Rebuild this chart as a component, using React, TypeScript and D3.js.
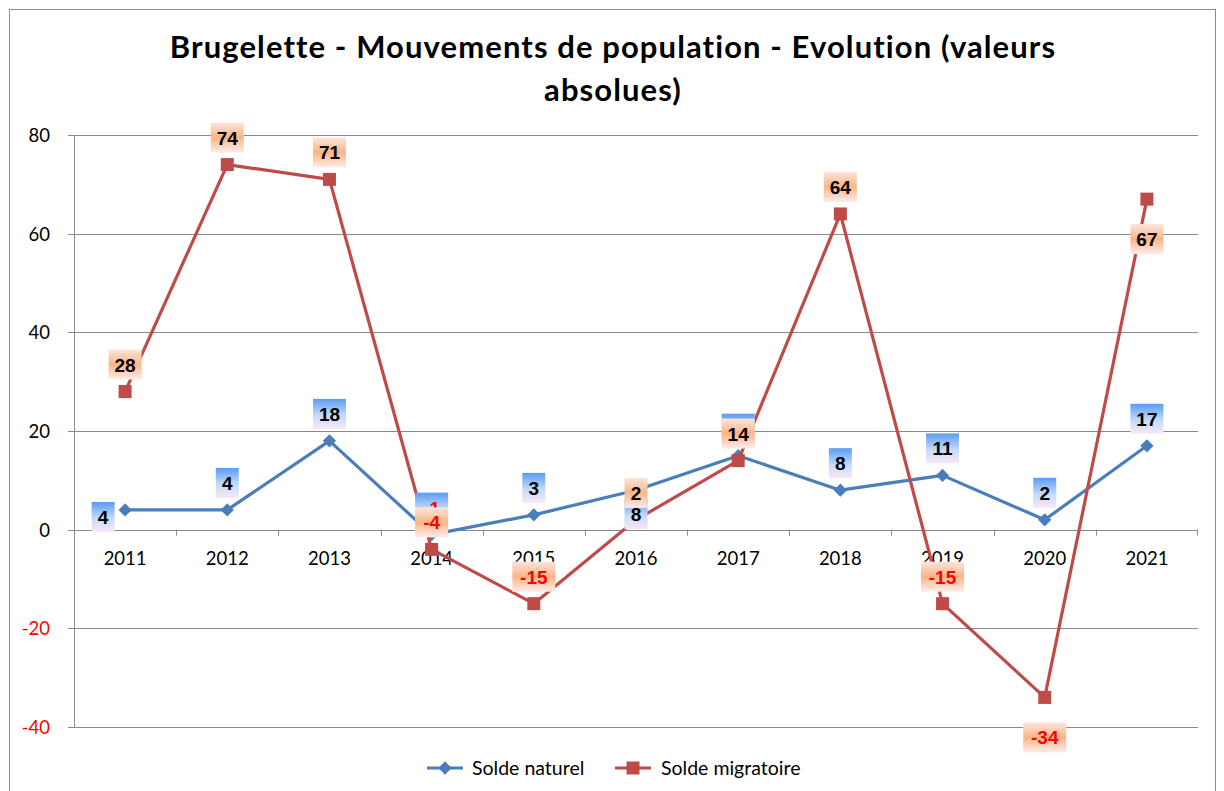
import React from "react";
import * as d3 from "d3";

const years = ["2011","2012","2013","2014","2015","2016","2017","2018","2019","2020","2021"];
const soldeNaturel = [4, 4, 18, -1, 3, 8, 15, 8, 11, 2, 17];
const soldeMigratoire = [28, 74, 71, -4, -15, 2, 14, 64, -15, -34, 67];
const naturelLabelPos = ["left","above","above","above","above","below","above","above","above","above","above"];
const migratoireLabelPos = ["above","above","above","above","above","above","above","above","above","below","below"];
const yTicks = [80, 60, 40, 20, 0, -20, -40];
const titleLines = ["Brugelette - Mouvements de population - Evolution (valeurs", "absolues)"];

const W = 1224, H = 791;
const plot = { left: 74, right: 1198, top: 135, bottom: 727 };
const BLUE = "#4a7ebb";
const RED = "#be4b48";
const FONT = "Lato, 'Open Sans', sans-serif";

export default function App() {
  const x = d3.scaleBand<string>().domain(years).range([plot.left, plot.right]);
  const y = d3.scaleLinear().domain([-40, 80]).range([plot.bottom, plot.top]);
  const cx = (i: number) => (x(years[i]) as number) + x.bandwidth() / 2;
  const line = d3.line<number>().x((_, i) => cx(i)).y(d => y(d));
  const diamond = d3.symbol().type(d3.symbolSquare).size(88)();

  const labelBox = (v: number, i: number, pos: string, kind: "n" | "m") => {
    const txt = String(v);
    const w = txt.length === 1 ? 23 : txt.length === 2 ? 33 : 43;
    const h = 30;
    let lx = cx(i), ly = y(v);
    if (pos === "above") ly -= 27;
    else if (pos === "below") ly += kind === "m" ? 40 : 24;
    else if (pos === "left") { lx -= 22; ly += 7; }
    return (
      <g key={kind + i}>
        <rect x={lx - w / 2} y={ly - h / 2} width={w} height={h} fill={kind === "n" ? "url(#gBlue)" : "url(#gOrange)"} />
        <text x={lx} y={ly + 7} textAnchor="middle" fontFamily="Arial, 'Liberation Sans', sans-serif" fontWeight="bold" fontSize={19} fill={v < 0 ? "#ff0000" : "#000"}>{txt}</text>
      </g>
    );
  };

  return (
    <svg width={W} height={H} style={{ position: "absolute", left: 0, top: 0 }}>
      <defs>
        <linearGradient id="gBlue" x1="0" y1="0" x2="0" y2="1">
          <stop offset="0" stopColor="#5a9cf2" />
          <stop offset="0.55" stopColor="#c5dbf7" />
          <stop offset="1" stopColor="#f7e8f6" />
        </linearGradient>
        <linearGradient id="gOrange" x1="0" y1="0" x2="0" y2="1">
          <stop offset="0" stopColor="#fde5dc" />
          <stop offset="0.5" stopColor="#f9b585" />
          <stop offset="1" stopColor="#fdeceb" />
        </linearGradient>
      </defs>
      <rect x={0} y={0} width={W} height={H} fill="#fff" />
      <rect x={9.5} y={9.5} width={1206} height={800} fill="none" stroke="#8c8c8c" strokeWidth={1} />

      {titleLines.map((t, k) => (
        <text key={k} x={613} y={58 + k * 43} textAnchor="middle" fontFamily={FONT} fontWeight="bold" fontSize={31} letterSpacing={1.1} fill="#000">{t}</text>
      ))}

      {yTicks.map(t => (
        <g key={t}>
          {t !== 0 && <line x1={plot.left} x2={plot.right} y1={Math.round(y(t)) + 0.5} y2={Math.round(y(t)) + 0.5} stroke="#8a8a8a" strokeWidth={1} />}
          <line x1={plot.left - 6} x2={plot.left} y1={Math.round(y(t)) + 0.5} y2={Math.round(y(t)) + 0.5} stroke="#8a8a8a" />
          <text x={50} y={y(t) + 7} textAnchor="end" fontFamily={FONT} fontSize={18.5} fill={t < 0 ? "#ff0000" : "#000"}>{t}</text>
        </g>
      ))}
      <line x1={plot.left + 0.5} x2={plot.left + 0.5} y1={plot.top} y2={plot.bottom} stroke="#8a8a8a" />
      <line x1={plot.left} x2={plot.right} y1={Math.round(y(0)) + 0.5} y2={Math.round(y(0)) + 0.5} stroke="#8a8a8a" />
      {years.map((yr, i) => (
        <g key={yr}>
          <line x1={Math.round(x(yr) as number) + 0.5} x2={Math.round(x(yr) as number) + 0.5} y1={y(0)} y2={y(0) + 6} stroke="#8a8a8a" />
          <text x={cx(i)} y={y(0) + 35} textAnchor="middle" fontFamily={FONT} fontSize={18.5} fill="#000">{yr}</text>
        </g>
      ))}
      <line x1={plot.right - 0.5} x2={plot.right - 0.5} y1={y(0)} y2={y(0) + 6} stroke="#8a8a8a" />

      <path d={line(soldeNaturel) as string} fill="none" stroke={BLUE} strokeWidth={3.2} strokeLinejoin="round" />
      {soldeNaturel.map((v, i) => (
        <path key={i} d={diamond as string} transform={`translate(${cx(i)},${y(v)}) rotate(45)`} fill={BLUE} />
      ))}
      <path d={line(soldeMigratoire) as string} fill="none" stroke={RED} strokeWidth={3.2} strokeLinejoin="round" />
      {soldeMigratoire.map((v, i) => (
        <rect key={i} x={cx(i) - 6.5} y={y(v) - 6.5} width={13} height={13} fill={RED} />
      ))}

      {soldeNaturel.map((v, i) => labelBox(v, i, naturelLabelPos[i], "n"))}
      {soldeMigratoire.map((v, i) => labelBox(v, i, migratoireLabelPos[i], "m"))}

      <g>
        <line x1={427} x2={463} y1={768} y2={768} stroke={BLUE} strokeWidth={3.2} />
        <path d={diamond as string} transform="translate(445,768) rotate(45)" fill={BLUE} />
        <text x={472} y={775} fontFamily={FONT} fontSize={19.5} fill="#000">Solde naturel</text>
        <line x1={615} x2={651} y1={768} y2={768} stroke={RED} strokeWidth={3.2} />
        <rect x={626.5} y={761.5} width={13} height={13} fill={RED} />
        <text x={661} y={775} fontFamily={FONT} fontSize={19.5} fill="#000">Solde migratoire</text>
      </g>
    </svg>
  );
}
